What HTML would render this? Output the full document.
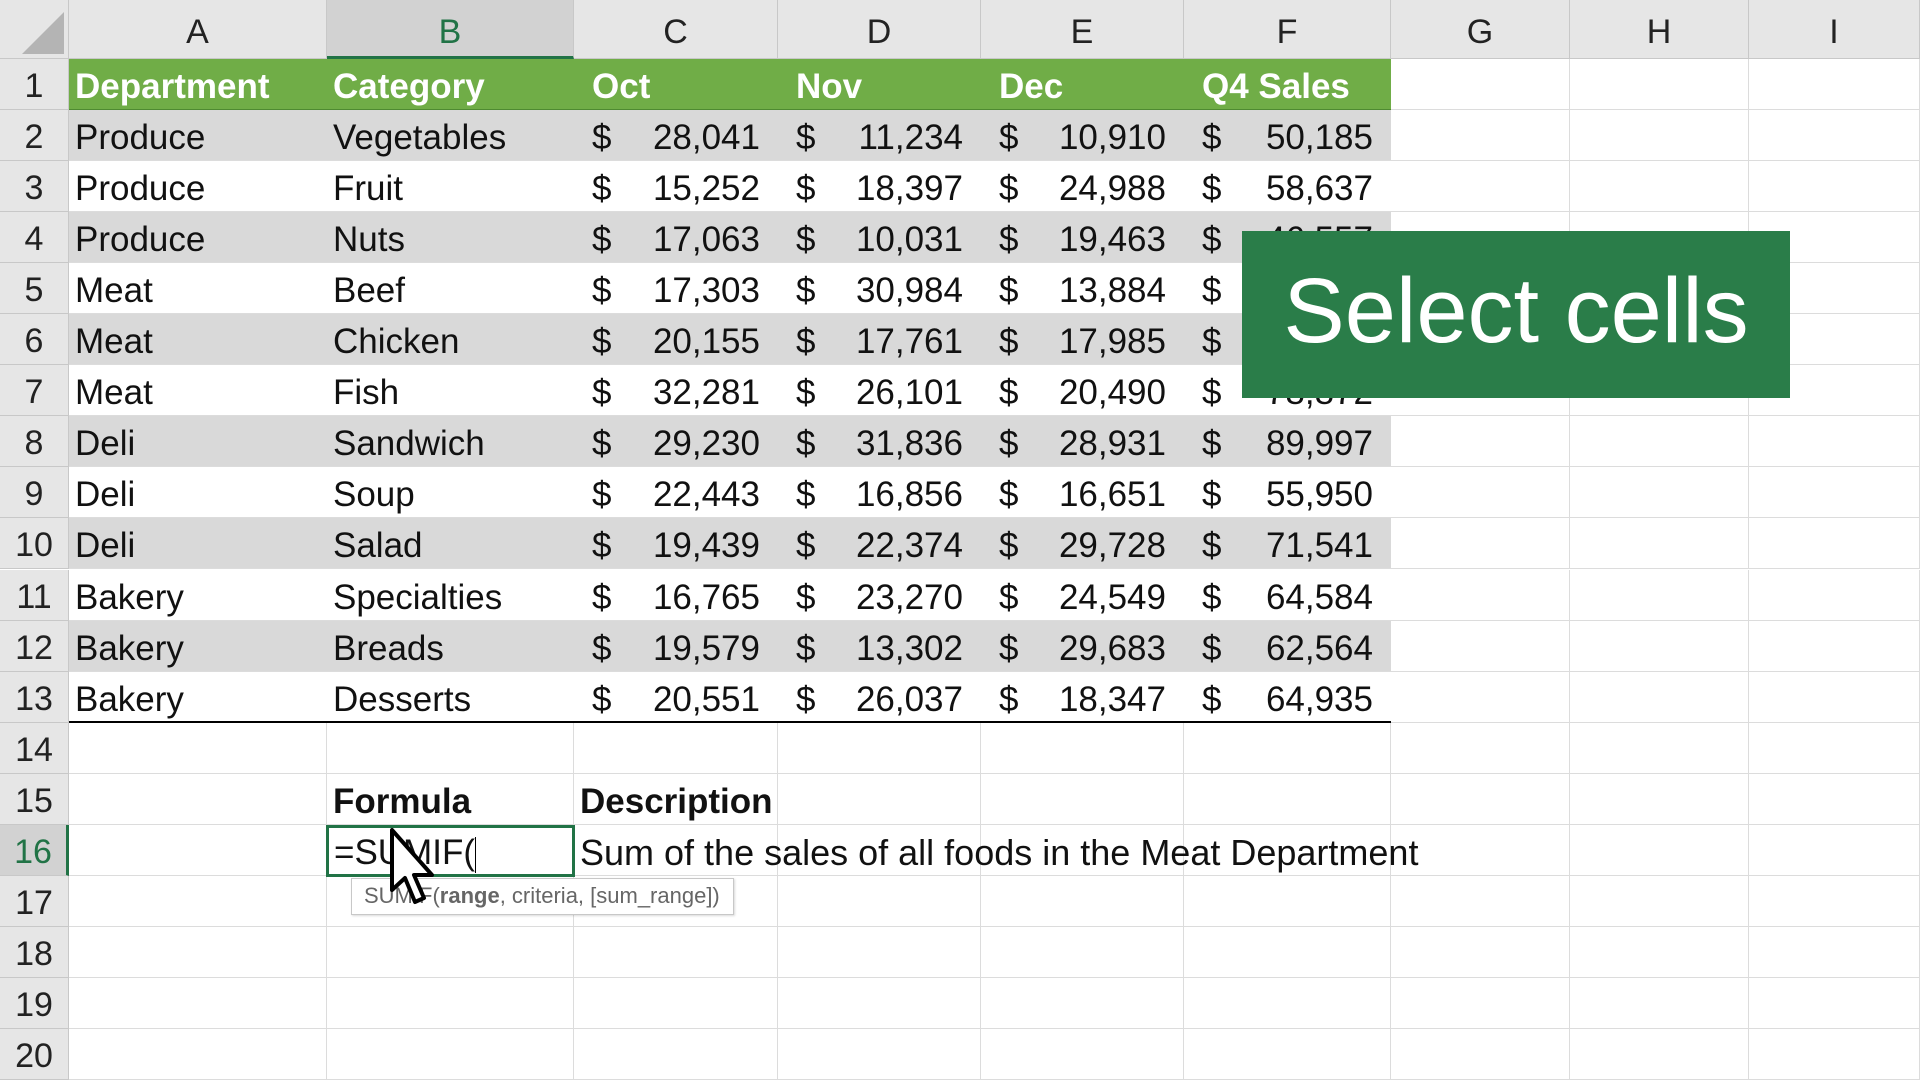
<!DOCTYPE html>
<html><head><meta charset="utf-8">
<style>
html,body{margin:0;padding:0;width:1920px;height:1080px;overflow:hidden;background:#fff;font-family:"Liberation Sans",sans-serif;}
#sheet{position:absolute;left:0;top:0;width:1920px;height:1080px;}
.abs{position:absolute;box-sizing:border-box;white-space:nowrap;}
.colhdr{background:#e6e6e6;border-right:1px solid #c8c8c8;border-bottom:1px solid #c8c8c8;text-align:center;font-size:34px;color:#222;line-height:64px;}
.rowhdr{background:#e6e6e6;border-bottom:1px solid #c8c8c8;border-right:1px solid #c8c8c8;text-align:center;font-size:34px;color:#222;}
.cell{border-right:1px solid #dcdcdc;border-bottom:1px solid #dcdcdc;font-size:35px;color:#111;padding-left:6px;}
.txt{font-size:35px;color:#111;}
</style></head>
<body>
<div id="sheet"></div>
<div class="abs" style="left:1242px;top:231px;width:548px;height:167px;background:#2a7d49;color:#fff;font-size:92px;line-height:160px;text-align:center;z-index:5;">Select cells</div>
<div class="abs" style="left:351px;top:878px;width:383px;height:37px;background:#fff;border:1px solid #c8c8c8;box-shadow:1px 1px 2px rgba(0,0,0,.15);font-size:22px;color:#666;line-height:34px;padding-left:12px;z-index:5;">SUMIF(<b>range</b>, criteria, [sum_range])</div>
<svg class="abs" style="left:388px;top:828px;z-index:6;" width="50" height="80" viewBox="0 0 50 80"><path d="M4 2 L4 62 L17 50 L27 74 L36 70 L26 47 L44 47 Z" fill="#fff" stroke="#000" stroke-width="4" stroke-linejoin="round"/></svg>
<script>
var depts=["Produce","Produce","Produce","Meat","Meat","Meat","Deli","Deli","Deli","Bakery","Bakery","Bakery"];
var cats=["Vegetables","Fruit","Nuts","Beef","Chicken","Fish","Sandwich","Soup","Salad","Specialties","Breads","Desserts"];
var oct=[28041,15252,17063,17303,20155,32281,29230,22443,19439,16765,19579,20551];
var nov=[11234,18397,10031,30984,17761,26101,31836,16856,22374,23270,13302,26037];
var dec=[10910,24988,19463,13884,17985,20490,28931,16651,29728,24549,29683,18347];
var headers=["Department","Category","Oct","Nov","Dec","Q4 Sales"];
var colLetters=["A","B","C","D","E","F","G","H","I"];
var colX=[69,327,574,778,981,1184,1391,1570,1749,1920];
var rowH=51.05, top0=59;
var sh=document.getElementById('sheet');
function mk(cls,l,t,w,h,txt,style){var d=document.createElement('div');d.className='abs '+cls;d.style.left=l+'px';d.style.top=t+'px';d.style.width=w+'px';d.style.height=h+'px';if(txt!==undefined)d.textContent=txt;if(style)d.style.cssText+=style;sh.appendChild(d);return d;}
function fmt(n){return n.toLocaleString('en-US');}
function rt(r){return top0+(r-1)*rowH;}
var c=mk('',0,0,69,59,undefined,'background:#e6e6e6;border-right:1px solid #c8c8c8;border-bottom:1px solid #c8c8c8;');


c.innerHTML='<svg width="69" height="59"><polygon points="64,12 64,54 22,54" fill="#b4b4b4"/></svg>';
for(var i=0;i<9;i++){
 var sel=(i==1);
 var h=mk('colhdr',colX[i],0,colX[i+1]-colX[i],59,colLetters[i],sel?'background:#d2d2d2;color:#217346;border-bottom:3px solid #217346;':'');
 
 
}
for(var r=1;r<=20;r++){
 var y=rt(r), hh=rowH;
 var rh=mk('rowhdr',0,y,69,hh,String(r),'line-height:'+(hh+4)+'px;'+(r==16?'background:#d2d2d2;color:#217346;border-right:3px solid #217346;':''));
 
 
 for(var ci=0;ci<9;ci++){
  var bg='#fff';
  if(r==1&&ci<6)bg='#70ad47';
  else if(r>=2&&r<=13&&r%2==0&&ci<6)bg='#d9d9d9';
  var extra='background:'+bg+';line-height:'+(hh+4)+'px;';
  if(r==13&&ci<6)extra+='border-bottom:2px solid #000;';
  if(r==1&&ci<6)extra+='border-right:none;border-bottom:1px solid #4e8a31;';
  if(r>=2&&r<=13&&ci<6)extra+='border-right:none;';
  var cell=mk('cell',colX[ci],y,colX[ci+1]-colX[ci],hh,undefined,extra);
  
  
  if(r==1&&ci<6){cell.textContent=headers[ci];cell.style.color='#fff';cell.style.fontWeight='bold';cell.style.paddingLeft=(ci>=2?'18px':'6px');}
  else if(r>=2&&r<=13&&ci<6){
   var k=r-2;
   if(ci==0)cell.textContent=depts[k];
   else if(ci==1)cell.textContent=cats[k];
   else{
    var v=ci==2?oct[k]:ci==3?nov[k]:ci==4?dec[k]:(oct[k]+nov[k]+dec[k]);
    cell.innerHTML='<span style="position:absolute;left:18px;">$</span><span style="position:absolute;right:18px;">'+fmt(v)+'</span>';
   }
  }
 }
}
var f=mk('txt',333,rt(15),240,rowH,'Formula','font-weight:bold;line-height:'+(rowH+4)+'px;');


var d=mk('txt',580,rt(15),400,rowH,'Description','font-weight:bold;line-height:'+(rowH+4)+'px;');


var inp=mk('',326,rt(16),249,rowH+1,undefined,'border:3px solid #217346;background:#fff;font-size:35px;line-height:'+(rowH-2)+'px;padding-left:5px;color:#111;z-index:3;');
inp.innerHTML='=SUMIF(<span style="display:inline-block;width:1px;height:36px;background:#000;vertical-align:middle;"></span>';


var ds=mk('txt',580,rt(16),1000,rowH,'Sum of the sales of all foods in the Meat Department','font-size:36px;line-height:'+(rowH+4)+'px;z-index:3;background:transparent;');


</script>
</body></html>
